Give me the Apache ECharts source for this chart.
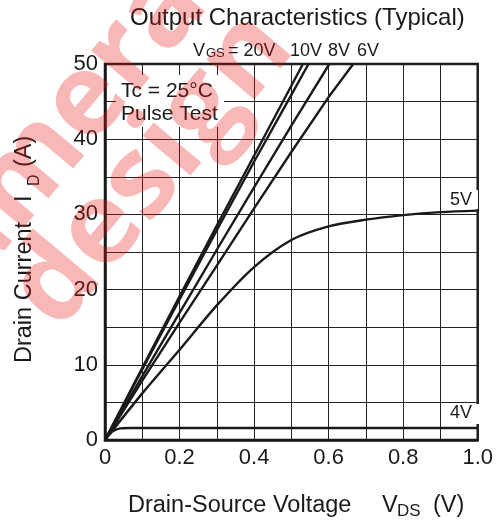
<!DOCTYPE html>
<html style="height: 100%">
<head>
    <meta charset="utf-8">
    <title>Output Characteristics</title>
    <script src="https://cdn.jsdelivr.net/npm/echarts/dist/echarts.min.js"></script>
</head>
<body style="height: 100%; margin: 0; background: #fff">
    <div id="main" style="width: 496px; height: 526px"></div>
    <script type="text/javascript">
        // drain current (A) against drain-source voltage (V), one list per gate voltage
        var vgs20V = [[0, 0], [0.1, 9.6], [0.2, 19.1], [0.3, 28.5], [0.4, 37.8], [0.5, 47.1], [0.531, 50]];
        var vgs10V = [[0, 0], [0.1, 9.4], [0.2, 18.7], [0.3, 27.9], [0.4, 37.0], [0.5, 45.9], [0.546, 50]];
        var vgs8V = [[0, 0], [0.1, 8.5], [0.2, 16.9], [0.3, 25.3], [0.4, 33.6], [0.5, 41.8], [0.602, 50]];
        var vgs6V = [[0, 0], [0.1, 7.9], [0.2, 15.6], [0.3, 23.2], [0.4, 30.8], [0.5, 38.3], [0.6, 45.6], [0.666, 50]];
        var vgs5V = [[0, 0], [0.1, 6.2], [0.2, 12.0], [0.3, 17.9], [0.4, 23.0], [0.5, 26.6], [0.6, 28.4], [0.7, 29.3], [0.8, 29.9], [0.9, 30.3], [1.0, 30.5]];
        var vgs4V = [[0, 0], [0.01, 0.7], [0.02, 1.15], [0.03, 1.42], [0.045, 1.57], [0.07, 1.6], [1.0, 1.6]];

        var seriesNames = ['20V', '10V', '8V', '6V', '5V', '4V'];
        var seriesData = [vgs20V, vgs10V, vgs8V, vgs6V, vgs5V, vgs4V];
        var seriesSmooth = [false, false, false, false, 0.3, false];

        var FONT = '"Liberation Sans", Arial, Helvetica, sans-serif';
        var INK = '#1a1a1a';
        var STAMP = 'rgba(235,20,20,0.3)';
        var STAMP_FONT = 'bold 114px "Open Sans", "DejaVu Sans", sans-serif';

        var myChart = echarts.init(document.getElementById('main'), null, { renderer: 'canvas' });

        function txt(x, y, text, size, extra) {
            var el = {
                type: 'text',
                x: x,
                y: y,
                z: 20,
                style: {
                    text: text,
                    fill: INK,
                    font: size + 'px ' + FONT,
                    align: 'left',
                    verticalAlign: 'middle'
                }
            };
            if (extra) {
                for (var k in extra) el[k] = extra[k];
            }
            return el;
        }

        var series = seriesData.map(function (d, i) {
            return {
                name: seriesNames[i],
                type: 'line',
                data: d,
                showSymbol: false,
                smooth: seriesSmooth[i],
                lineStyle: { color: INK, width: 2.4 },
                z: 5
            };
        });

        var option = {
            backgroundColor: '#fff',
            animation: false,
            grid: {
                left: 105, right: 14, top: 64, bottom: 86,
                show: true, borderColor: INK, borderWidth: 2.5
            },
            xAxis: {
                type: 'value', min: 0, max: 1, interval: 0.1,
                axisLine: { lineStyle: { color: INK, width: 2.5 } },
                axisTick: { show: false },
                axisLabel: {
                    margin: 7, fontSize: 22, fontFamily: FONT, color: INK,
                    formatter: function (v) {
                        var k = Math.round(v * 10);
                        if (k % 2) return '';
                        return k === 0 ? '0' : (k / 10).toFixed(1);
                    }
                },
                splitLine: { show: true, lineStyle: { color: '#222', width: 1 } }
            },
            yAxis: {
                type: 'value', min: 0, max: 50, interval: 5,
                axisLine: { lineStyle: { color: INK, width: 2.5 } },
                axisTick: { show: false },
                axisLabel: {
                    margin: 7, fontSize: 22, fontFamily: FONT, color: INK,
                    formatter: function (v) { return v % 10 === 0 ? String(v) : ''; }
                },
                splitLine: { show: true, lineStyle: { color: '#222', width: 1 } }
            },
            series: series,
            graphic: [
                // title
                txt(130, 18, 'Output Characteristics (Typical)', 24),
                // gate voltage labels
                txt(193, 51, 'V', 18),
                txt(206, 53, 'GS', 13),
                txt(228, 51, '= 20V', 18),
                txt(290, 51, '10V', 18),
                txt(328, 51, '8V', 18),
                txt(357, 51, '6V', 18),
                // condition box
                { type: 'rect', z: 15, shape: { x: 116, y: 75, width: 108, height: 52 }, style: { fill: '#fff' } },
                txt(121, 91, 'Tc = 25°C', 21),
                txt(121, 114, 'Pulse Test', 21),
                // curve labels
                { type: 'rect', z: 15, shape: { x: 448, y: 190, width: 30, height: 19 }, style: { fill: '#fff' } },
                txt(450, 200, '5V', 18),
                { type: 'rect', z: 15, shape: { x: 446, y: 404, width: 34, height: 20 }, style: { fill: '#fff' } },
                txt(450, 413, '4V', 18),
                // x axis name
                txt(128, 506, 'Drain-Source Voltage', 23.5),
                txt(382, 506, 'V', 23.5),
                txt(397, 511, 'DS', 17),
                txt(433, 506, '(V)', 23.5),
                // y axis name (rotated)
                txt(25, 363, 'Drain Current', 23.5, { rotation: Math.PI / 2 }),
                txt(25, 202, 'I', 23.5, { rotation: Math.PI / 2 }),
                txt(35, 186, 'D', 16, { rotation: Math.PI / 2 }),
                txt(25, 167, '(A)', 23.5, { rotation: Math.PI / 2 }),
                // red watermark stamped over the sheet
                {
                    type: 'text', x: -10, y: 275, z: 100, rotation: 50 * Math.PI / 180,
                    style: { text: 'design', fill: STAMP, font: STAMP_FONT, align: 'left', verticalAlign: 'alphabetic' }
                },
                {
                    type: 'text', x: -95, y: 230, z: 100, rotation: 50 * Math.PI / 180,
                    style: { text: 'amera', fill: STAMP, font: STAMP_FONT, align: 'left', verticalAlign: 'alphabetic' }
                }
            ]
        };

        myChart.setOption(option);
    </script>
</body>
</html>
